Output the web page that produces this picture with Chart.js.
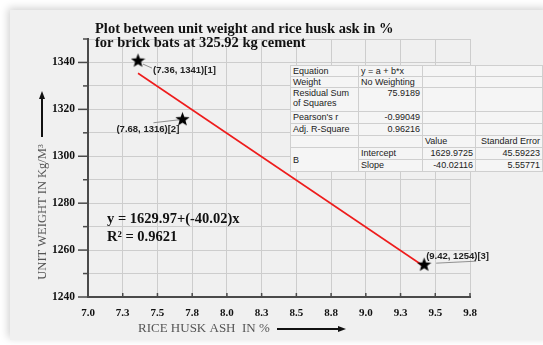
<!DOCTYPE html>
<html>
<head>
<meta charset="utf-8">
<script src="https://cdn.jsdelivr.net/npm/chart.js@4.4.1/dist/chart.umd.min.js"></script>
<style>
  html, body { margin: 0; padding: 0; background: #ffffff; }
  #wrap { position: relative; width: 543px; height: 345px; overflow: hidden; }
  #panel { position: absolute; left: 10px; top: 10px; width: 540px; height: 330px; background: #f0f0f0;
           box-shadow: -2px -2px 8px rgba(0,0,0,0.18); }
  #c { position: absolute; left: 0; top: 0; }
  #fitTable { position: absolute; left: 290px; top: 65px; border-collapse: collapse; background: #f5f5f5;
              border: 1px solid #7a7a7a; font-family: "Liberation Sans", Arial, sans-serif; font-size: 9px;
              color: #222; table-layout: fixed; }
  #fitTable td { border: 1px solid #cfcfcf; padding: 0 2px; vertical-align: top; line-height: 10px; white-space: nowrap; overflow: hidden; }
  #fitTable td.r { text-align: right; }
  #fitTable td.m { vertical-align: middle; }
</style>
</head>
<body>
<div id="wrap">
  <div id="panel"></div>
  <canvas id="c" width="543" height="345"></canvas>
  <table id="fitTable"></table>
</div>
<script>
// measured points
const xValues = [7.36, 7.68, 9.42];
const yValues = [1341, 1316, 1254];
const pointLabels = ['(7.36, 1341)[1]', '(7.68, 1316)[2]', '(9.42, 1254)[3]'];

// red fit line, end points
const fitX = [7.36, 9.42];
const fitY = [1335.4, 1253.0];

const xTickLabels = ['7.0', '7.3', '7.5', '7.8', '8.0', '8.3', '8.5', '8.8', '9.0', '9.3', '9.5', '9.8'];
const yTickLabels = ['1240', '1260', '1280', '1300', '1320', '1340'];

const titleLines = ['Plot between unit weight and rice husk ask in %', 'for brick bats at 325.92 kg cement'];
const equationLines = ['y = 1629.97+(-40.02)x', 'R² = 0.9621'];
const xTitle = 'RICE HUSK ASH  IN %';
const yTitle = 'UNIT WEIGHT IN Kg/M³';

// fit statistics table
const statNames = ['Equation', 'Weight', 'Residual Sum<br>of Squares', "Pearson's r", 'Adj. R-Square'];
const statValues = ['y = a + b*x', 'No Weighting', '75.9189', '-0.99049', '0.96216'];
const paramHeaders = ['Value', 'Standard Error'];
const paramNames = ['Intercept', 'Slope'];
const paramValues = ['1629.9725', '-40.02116'];
const paramErrors = ['45.59223', '5.55771'];

// build the table
(function buildTable() {
  const t = document.getElementById('fitTable');
  const widths = [68, 64, 53, 67];
  let html = '<colgroup>' + widths.map(w => '<col style="width:' + w + 'px">').join('') + '</colgroup>';
  const rowH = [11, 11, 24, 12, 12];
  statNames.forEach((n, i) => {
    const alignCls = (i < 2) ? '' : 'r';
    html += '<tr style="height:' + rowH[i] + 'px"><td>' + n + '</td><td class="' + alignCls + '">' + statValues[i] + '</td><td></td><td></td></tr>';
  });
  html += '<tr style="height:12px"><td></td><td></td><td>' + paramHeaders[0] + '</td><td class="r">' + paramHeaders[1] + '</td></tr>';
  paramNames.forEach((n, i) => {
    html += '<tr style="height:12px">' + (i === 0 ? '<td rowspan="2" class="m">B</td>' : '') +
      '<td>' + n + '</td><td class="r">' + paramValues[i] + '</td><td class="r">' + paramErrors[i] + '</td></tr>';
  });
  t.innerHTML = html;
})();

// filled star used as point style
function makeStar(size) {
  const cv = document.createElement('canvas');
  cv.width = size; cv.height = size;
  const g = cv.getContext('2d');
  const cx = size / 2, cy = size / 2 + 0.8, ro = size / 2, ri = ro * 0.42;
  g.beginPath();
  for (let i = 0; i < 10; i++) {
    const r = i % 2 === 0 ? ro : ri;
    const a = -Math.PI / 2 + i * Math.PI / 5;
    g.lineTo(cx + r * Math.cos(a), cy + r * Math.sin(a));
  }
  g.closePath();
  g.fillStyle = '#000';
  g.fill();
  return cv;
}
const star = makeStar(15);

const decorations = {
  id: 'decorations',
  afterDraw(chart) {
    const ctx = chart.ctx;
    const xs = chart.scales.x, ys = chart.scales.y;
    const area = chart.chartArea;
    ctx.save();

    // y-axis tick marks (outside), longer where labelled
    ys.ticks.forEach(t => {
      const py = ys.getPixelForValue(t.value);
      const major = yTickLabels.includes(String(t.value));
      ctx.strokeStyle = '#4a4a4a';
      ctx.lineWidth = 1.5;
      ctx.beginPath();
      ctx.moveTo(area.left, py);
      ctx.lineTo(area.left - (major ? 10 : 5), py);
      ctx.stroke();
    });
    // x-axis tick marks (inside)
    xs.ticks.forEach(t => {
      const px = xs.getPixelForValue(t.value);
      ctx.strokeStyle = '#4a4a4a';
      ctx.lineWidth = 1.5;
      ctx.beginPath();
      ctx.moveTo(px, area.bottom);
      ctx.lineTo(px, area.bottom - 4);
      ctx.stroke();
    });

    // title
    ctx.fillStyle = '#111';
    ctx.font = 'bold 14.5px "Liberation Serif", "Times New Roman", serif';
    ctx.textAlign = 'left';
    ctx.textBaseline = 'alphabetic';
    ctx.fillText(titleLines[0], 95, 33);
    ctx.fillText(titleLines[1], 95, 47);

    // point labels with leader lines
    const offs = [[15, 10, 'left'], [-66, 11, 'left'], [2, -8, 'left']];
    const leads = [[5, 4, 14, 8], [-29, 4, -3, 1], [12, -1, 52, -3]];
    ctx.font = 'bold 9.5px "Liberation Sans", Arial, sans-serif';
    ctx.textBaseline = 'middle';
    xValues.forEach((xv, i) => {
      const px = xs.getPixelForValue(xv), py = ys.getPixelForValue(yValues[i]);
      ctx.strokeStyle = '#777';
      ctx.lineWidth = 0.8;
      ctx.beginPath();
      ctx.moveTo(px + leads[i][0], py + leads[i][1]);
      ctx.lineTo(px + leads[i][2], py + leads[i][3]);
      ctx.stroke();
      ctx.fillStyle = '#222';
      ctx.textAlign = offs[i][2];
      ctx.fillText(pointLabels[i], px + offs[i][0], py + offs[i][1]);
    });

    // fit equation
    ctx.fillStyle = '#111';
    ctx.font = 'bold 14.5px "Liberation Serif", "Times New Roman", serif';
    ctx.textAlign = 'left';
    ctx.textBaseline = 'alphabetic';
    ctx.fillText(equationLines[0], 107, 223);
    ctx.fillText(equationLines[1], 107, 241);

    // axis titles
    ctx.fillStyle = '#555';
    ctx.font = '13px "Liberation Serif", "Times New Roman", serif';
    ctx.textBaseline = 'middle';
    ctx.textAlign = 'left';
    ctx.fillText(xTitle, 138, 329);
    ctx.save();
    ctx.font = '12.5px "Liberation Serif", "Times New Roman", serif';
    ctx.translate(43, 212);
    ctx.rotate(-Math.PI / 2);
    ctx.textAlign = 'center';
    ctx.fillText(yTitle, 0, 0);
    ctx.restore();

    // arrows
    ctx.strokeStyle = '#111';
    ctx.fillStyle = '#111';
    ctx.lineWidth = 2;
    ctx.beginPath();
    ctx.moveTo(277, 329); ctx.lineTo(340, 329);
    ctx.stroke();
    ctx.beginPath();
    ctx.moveTo(346, 329); ctx.lineTo(338, 326); ctx.lineTo(338, 332); ctx.closePath();
    ctx.fill();
    ctx.beginPath();
    ctx.moveTo(42, 137); ctx.lineTo(42, 98);
    ctx.stroke();
    ctx.beginPath();
    ctx.moveTo(42, 91); ctx.lineTo(39, 99); ctx.lineTo(45, 99); ctx.closePath();
    ctx.fill();

    ctx.restore();
  }
};

new Chart(document.getElementById('c'), {
  type: 'scatter',
  data: {
    datasets: [
      {
        label: 'Unit weight',
        data: xValues.map((x, i) => ({ x: x, y: yValues[i] })),
        pointStyle: star,
        pointRadius: 7,
        showLine: false
      },
      {
        type: 'line',
        label: 'Linear fit',
        data: fitX.map((x, i) => ({ x: x, y: fitY[i] })),
        borderColor: '#ee1c1c',
        borderWidth: 1.6,
        pointRadius: 0,
        fill: false
      }
    ]
  },
  options: {
    responsive: false,
    animation: false,
    layout: { padding: { left: 0, top: 39, right: 73, bottom: 0 } },
    scales: {
      x: {
        type: 'linear',
        min: 7,
        max: 9.75,
        ticks: {
          stepSize: 0.25,
          autoSkip: false,
          maxRotation: 0,
          padding: 10,
          color: '#111',
          font: { family: '"Liberation Serif", "Times New Roman", serif', weight: 'bold', size: 11 },
          callback: (v, i) => xTickLabels[i]
        },
        grid: { color: '#cdcdcd', lineWidth: 1, drawTicks: false },
        border: { color: '#4a4a4a', width: 2 },
        afterFit: s => { s.height = 48; }
      },
      y: {
        min: 1240,
        max: 1350,
        ticks: {
          stepSize: 10,
          autoSkip: false,
          padding: 13,
          color: '#111',
          font: { family: '"Liberation Serif", "Times New Roman", serif', weight: 'bold', size: 11.5 },
          callback: v => yTickLabels.includes(String(v)) ? String(v) : ''
        },
        grid: { color: '#cdcdcd', lineWidth: 1, drawTicks: false },
        border: { color: '#4a4a4a', width: 2 },
        afterFit: s => { s.width = 88; }
      }
    },
    plugins: {
      legend: { display: false },
      tooltip: { enabled: false }
    }
  },
  plugins: [decorations]
});
</script>
</body>
</html>
